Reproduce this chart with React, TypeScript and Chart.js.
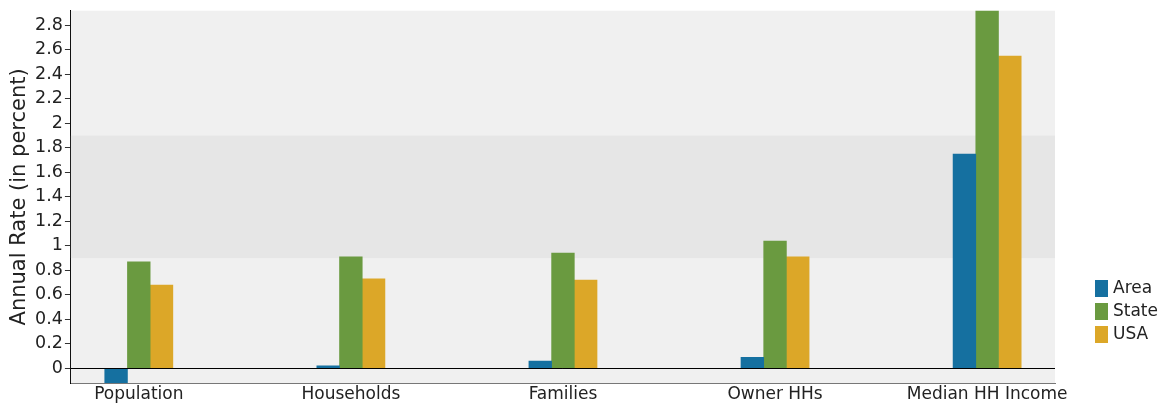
import React, { useEffect, useRef } from "react";
import { Chart, registerables } from "chart.js";

Chart.register(...registerables);

const categories = ["Population", "Households", "Families", "Owner HHs", "Median HH Income"];
const areaValues = [-0.12, 0.02, 0.06, 0.09, 1.75];
const stateValues = [0.87, 0.91, 0.94, 1.04, 2.95];
const usaValues = [0.68, 0.73, 0.72, 0.91, 2.55];
const seriesNames = ["Area", "State", "USA"];
const seriesColors = ["#1570a0", "#6a9a40", "#dca728"];
const yTicks = [0, 0.2, 0.4, 0.6, 0.8, 1, 1.2, 1.4, 1.6, 1.8, 2, 2.2, 2.4, 2.6, 2.8];
const bandRange = [0.9, 1.9];
const yMin = -0.12;
const yMax = 2.92;

const FONT = "'DejaVu Sans', Verdana, sans-serif";

const bgPlugin = {
  id: "bgPlugin",
  beforeDatasetsDraw(chart: any) {
    const { ctx, chartArea: a, scales } = chart;
    const y = scales.y;
    ctx.save();
    ctx.fillStyle = "#f0f0f0";
    ctx.fillRect(a.left, a.top, a.right - a.left, a.bottom - a.top);
    const y1 = y.getPixelForValue(bandRange[1]);
    const y0 = y.getPixelForValue(bandRange[0]);
    ctx.fillStyle = "#e6e6e6";
    ctx.fillRect(a.left, y1, a.right - a.left, y0 - y1);
    ctx.restore();
  },
  afterDatasetsDraw(chart: any) {
    const { ctx, chartArea: a, scales } = chart;
    const yz = Math.round(scales.y.getPixelForValue(0)) + 0.5;
    ctx.save();
    ctx.strokeStyle = "#000";
    ctx.lineWidth = 1;
    ctx.beginPath();
    ctx.moveTo(a.left, yz);
    ctx.lineTo(a.right, yz);
    ctx.stroke();
    // legend
    const x = a.right + 40;
    let top = 280;
    ctx.font = "17px " + FONT;
    ctx.textBaseline = "middle";
    chart.data.datasets.forEach((ds: any) => {
      ctx.fillStyle = ds.backgroundColor;
      ctx.fillRect(x, top, 13, 17);
      ctx.fillStyle = "#222";
      ctx.fillText(ds.label, x + 18, top + 9);
      top += 23;
    });
    ctx.restore();
  },
};

export default function App() {
  const ref = useRef<HTMLCanvasElement>(null);
  useEffect(() => {
    document.body.style.margin = "0";
    const mk = (arr: number[]) => arr.map((v, i) => ({ x: i, y: v }));
    const chart = new Chart(ref.current!, {
      type: "bar",
      data: {
        datasets: [areaValues, stateValues, usaValues].map((vals, i) => ({
          label: seriesNames[i],
          data: mk(vals),
          backgroundColor: seriesColors[i],
          barThickness: 22.7,
        })),
      },
      options: {
        animation: false,
        responsive: false,
        maintainAspectRatio: false,
        layout: { padding: { left: 8, right: 108, top: 0, bottom: -3 } },
        plugins: { legend: { display: false }, tooltip: { enabled: false } },
        scales: {
          x: {
            type: "linear",
            min: -0.32,
            max: 4.32,
            offset: false,
            afterBuildTicks: (s: any) => {
              s.ticks = categories.map((_, i) => ({ value: i }));
            },
            ticks: {
              callback: (v: any) => categories[v] ?? "",
              font: { size: 17, family: FONT, lineHeight: 1 },
              color: "#222",
              maxRotation: 0,
              autoSkip: false,
              padding: 3,
            },
            grid: { display: false, drawTicks: false },
            border: { color: "#777", width: 1 },
          },
          y: {
            type: "linear",
            min: yMin,
            max: yMax,
            afterBuildTicks: (s: any) => {
              s.ticks = yTicks.map((v) => ({ value: v }));
            },
            ticks: {
              callback: (v: any) => String(Math.round(v * 10) / 10),
              font: { size: 17.5, family: FONT, lineHeight: 1 },
              color: "#222",
              padding: 2,
            },
            grid: { drawOnChartArea: false, drawTicks: true, tickLength: 6, color: "#333" },
            border: { color: "#000", width: 1 },
            title: {
              display: true,
              text: "Annual Rate (in percent)",
              font: { size: 21, family: FONT, lineHeight: 1.1 },
              color: "#222",
              padding: { top: 0, bottom: 2 },
            },
          },
        },
      },
      plugins: [bgPlugin],
    } as any);
    return () => chart.destroy();
  }, []);
  return <canvas ref={ref} width={1163} height={403} style={{ display: "block" }} />;
}
